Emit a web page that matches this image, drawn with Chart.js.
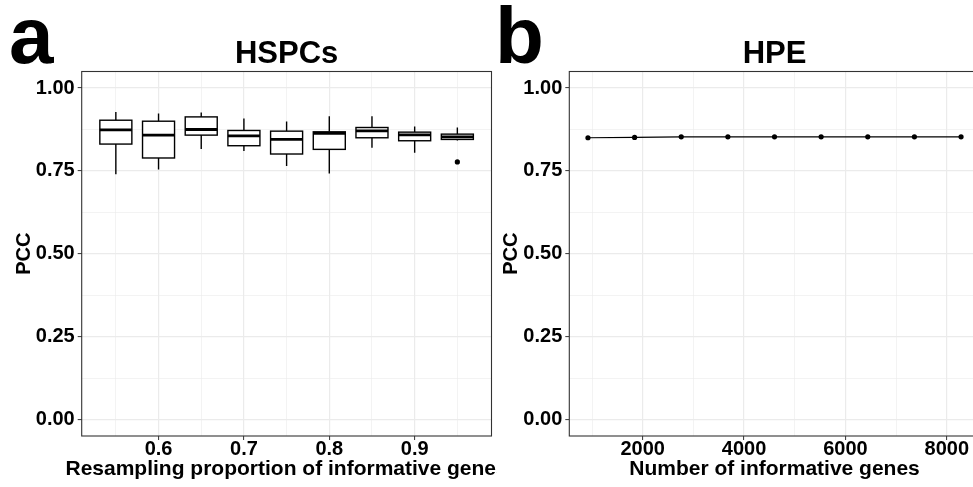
<!DOCTYPE html>
<html>
<head>
<meta charset="utf-8">
<script src="https://cdn.jsdelivr.net/npm/chart.js@4.4.1/dist/chart.umd.min.js"></script>
<style>
  html, body { margin: 0; padding: 0; background: #fff; overflow: hidden; }
  #wrap { position: relative; width: 973px; height: 487px; overflow: hidden; }
  .panel { position: absolute; top: 0; height: 487px; }
  #panelA { left: 0; width: 497px; }
  #panelB { left: 497px; width: 500px; }
</style>
</head>
<body>
<div id="wrap">
  <div class="panel" id="panelA"><canvas id="chartA"></canvas></div>
  <div class="panel" id="panelB"><canvas id="chartB"></canvas></div>
</div>
<script>
// panel a: PCC over repeated resampling of informative genes (box summaries)
const propLevels = [0.55, 0.60, 0.65, 0.70, 0.75, 0.80, 0.85, 0.90, 0.95];
const boxLow     = [0.740, 0.754, 0.816, 0.810, 0.765, 0.742, 0.820, 0.805, 0.842];
const boxQ1      = [0.831, 0.789, 0.858, 0.826, 0.801, 0.815, 0.850, 0.841, 0.845];
const boxMedian  = [0.874, 0.858, 0.875, 0.856, 0.845, 0.863, 0.871, 0.859, 0.853];
const boxQ3      = [0.903, 0.900, 0.913, 0.872, 0.870, 0.868, 0.881, 0.867, 0.861];
const boxHigh    = [0.928, 0.923, 0.926, 0.908, 0.899, 0.915, 0.915, 0.884, 0.881];
const outlierX   = [0.95];
const outlierY   = [0.777];

// panel b: PCC vs number of informative genes
const geneCounts = [920, 1840, 2760, 3680, 4600, 5520, 6440, 7360, 8280];
const hpePCC     = [0.850, 0.851, 0.853, 0.853, 0.853, 0.853, 0.853, 0.853, 0.853];

// axis ticks (major = labelled, minor = grid only)
const yTicks    = [0, 0.25, 0.5, 0.75, 1];
const yMinor    = [0.125, 0.375, 0.625, 0.875];
const propTicks = [0.6, 0.7, 0.8, 0.9];
const propMinor = [0.55, 0.65, 0.75, 0.85, 0.95];
const geneTicks = [2000, 4000, 6000, 8000];
const geneMinor = [1000, 3000, 5000, 7000];

const FONT = '"Liberation Sans", Arial, Helvetica, sans-serif';
const GRID = '#EBEBEB';
const INK = '#333333';

function tickList(major, minor) {
  return [...major, ...minor].sort((a, b) => a - b).map(v => ({ value: v }));
}

function axis(min, max, major, minor, fmt, size) {
  return {
    type: 'linear',
    min, max,
    afterBuildTicks: s => { s.ticks = tickList(major, minor); },
    afterFit: s => { if (s.isHorizontal()) s.height = size; else s.width = size; },
    border: { display: false },
    grid: {
      color: GRID,
      lineWidth: c => major.includes(c.tick.value) ? 1.2 : 0.6,
      drawTicks: true,
      tickLength: 4,
      tickWidth: 1,
      tickColor: c => major.includes(c.tick.value) ? INK : 'rgba(0,0,0,0)'
    },
    ticks: {
      autoSkip: false,
      maxRotation: 0,
      padding: size > 60 ? 3 : -2.5,
      color: '#000',
      font: { family: FONT, size: 20, weight: 'bold' },
      callback: v => major.includes(v) ? fmt(v) : ''
    }
  };
}

// frame, titles, panel letters and box-and-whisker marks
const panelDecor = {
  id: 'panelDecor',
  beforeDatasetsDraw(chart, args, opts) {
    if (!opts.boxes) return;
    const ctx = chart.ctx, xs = chart.scales.x, ys = chart.scales.y;
    const halfW = 0.01875;
    ctx.save();
    ctx.strokeStyle = '#000';
    propLevels.forEach((p, i) => {
      const x0 = xs.getPixelForValue(p - halfW);
      const x1 = xs.getPixelForValue(p + halfW);
      const xc = xs.getPixelForValue(p);
      const yLo = ys.getPixelForValue(boxLow[i]);
      const y1 = ys.getPixelForValue(boxQ1[i]);
      const yM = ys.getPixelForValue(boxMedian[i]);
      const y3 = ys.getPixelForValue(boxQ3[i]);
      const yHi = ys.getPixelForValue(boxHigh[i]);
      ctx.lineWidth = 1.4;
      ctx.beginPath();
      ctx.moveTo(xc, yHi); ctx.lineTo(xc, y3);
      ctx.moveTo(xc, y1); ctx.lineTo(xc, yLo);
      ctx.stroke();
      ctx.fillStyle = '#fff';
      ctx.fillRect(x0, y3, x1 - x0, y1 - y3);
      ctx.strokeRect(x0, y3, x1 - x0, y1 - y3);
      ctx.lineWidth = 2.8;
      ctx.beginPath();
      ctx.moveTo(x0, yM); ctx.lineTo(x1, yM);
      ctx.stroke();
    });
    ctx.restore();
  },
  afterDraw(chart, args, opts) {
    const ctx = chart.ctx, a = chart.chartArea;
    const cx = (a.left + a.right) / 2, cy = (a.top + a.bottom) / 2;
    ctx.save();
    ctx.strokeStyle = INK;
    ctx.lineWidth = 1.1;
    ctx.strokeRect(a.left, a.top, a.right - a.left, a.bottom - a.top);

    ctx.fillStyle = '#000';
    ctx.textBaseline = 'alphabetic';
    ctx.textAlign = 'center';
    ctx.font = 'bold 31px ' + FONT;
    ctx.fillText(opts.title, cx, 63);

    ctx.font = 'bold 21px ' + FONT;
    ctx.fillText(opts.xTitle, cx, 475);

    ctx.font = 'bold 20px ' + FONT;
    ctx.save();
    ctx.translate(a.left - opts.yTitleGap, cy);
    ctx.rotate(-Math.PI / 2);
    ctx.fillText('PCC', 0, 0);
    ctx.restore();

    ctx.textAlign = 'left';
    ctx.font = 'bold 80px ' + FONT;
    ctx.fillText(opts.letter, opts.letterX, 63);
    ctx.restore();
  }
};

const yAxisFmt = v => v.toFixed(2);

new Chart(document.getElementById('chartA'), {
  type: 'scatter',
  data: {
    datasets: [{
      data: outlierX.map((x, i) => ({ x, y: outlierY[i] })),
      pointRadius: 2.6,
      pointBackgroundColor: '#000',
      pointBorderColor: '#000',
      pointBorderWidth: 0
    }]
  },
  options: {
    responsive: true,
    maintainAspectRatio: false,
    animation: false,
    layout: { padding: { top: 71.5, right: 5.5, left: 0, bottom: 0 } },
    scales: {
      x: axis(0.51, 0.99, propTicks, propMinor, v => v.toFixed(1), 51),
      y: axis(-0.05, 1.05, yTicks, yMinor, yAxisFmt, 81.7)
    },
    plugins: {
      legend: { display: false },
      tooltip: { enabled: false },
      panelDecor: { title: 'HSPCs', xTitle: 'Resampling proportion of informative genes',
                    letter: 'a', letterX: 9, yTitleGap: 51.7, boxes: true }
    }
  },
  plugins: [panelDecor]
});

new Chart(document.getElementById('chartB'), {
  type: 'line',
  data: {
    datasets: [{
      data: geneCounts.map((x, i) => ({ x, y: hpePCC[i] })),
      borderColor: '#000',
      borderWidth: 1.2,
      tension: 0,
      pointRadius: 2.6,
      pointBackgroundColor: '#000',
      pointBorderColor: '#000',
      pointBorderWidth: 0
    }]
  },
  options: {
    responsive: true,
    maintainAspectRatio: false,
    animation: false,
    layout: { padding: { top: 71.5, right: 17.3, left: 0, bottom: 0 } },
    scales: {
      x: axis(552, 8648, geneTicks, geneMinor, v => String(v), 51),
      y: axis(-0.05, 1.05, yTicks, yMinor, yAxisFmt, 72.3)
    },
    plugins: {
      legend: { display: false },
      tooltip: { enabled: false },
      panelDecor: { title: 'HPE', xTitle: 'Number of informative genes',
                    letter: 'b', letterX: -2, yTitleGap: 52.6, boxes: false }
    }
  },
  plugins: [panelDecor]
});
</script>
</body>
</html>
